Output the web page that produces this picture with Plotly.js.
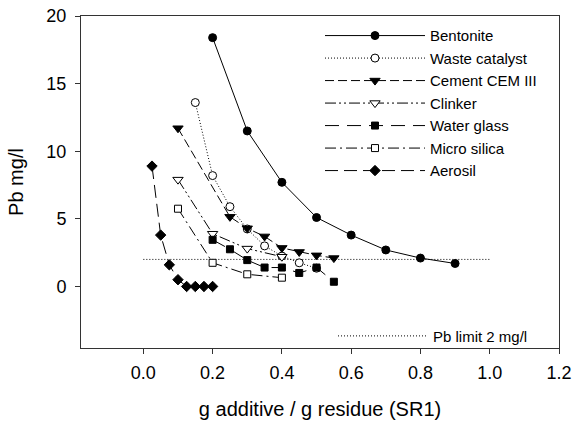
<!DOCTYPE html>
<html>
<head>
<meta charset="utf-8">
<script src="https://cdn.plot.ly/plotly-3.0.1.min.js"></script>
<style>html,body{margin:0;padding:0;background:#fff;}#chart{width:575px;height:424px;}</style>
</head>
<body>
<div id="chart"></div>
<script>
const seriesNames = ["Bentonite", "Waste catalyst", "Cement CEM III", "Clinker", "Water glass", "Micro silica", "Aerosil"];
const bentoniteX = [0.2, 0.3, 0.4, 0.5, 0.6, 0.7, 0.8, 0.9];
const bentoniteY = [18.4, 11.5, 7.7, 5.1, 3.8, 2.7, 2.1, 1.7];
const wasteX = [0.15, 0.2, 0.25, 0.3, 0.35, 0.4, 0.45, 0.5];
const wasteY = [13.6, 8.2, 5.9, 4.25, 3.0, 2.25, 1.75, 1.35];
const cementX = [0.1, 0.25, 0.3, 0.35, 0.4, 0.45, 0.5, 0.55];
const cementY = [11.7, 5.15, 4.3, 3.7, 2.85, 2.55, 2.3, 2.1];
const clinkerX = [0.1, 0.2, 0.3, 0.4];
const clinkerY = [7.9, 3.9, 2.8, 2.2];
const waterX = [0.2, 0.25, 0.3, 0.35, 0.4, 0.45, 0.5, 0.55];
const waterY = [3.45, 2.75, 1.95, 1.4, 1.4, 1.0, 1.4, 0.35];
const microX = [0.1, 0.2, 0.3, 0.4];
const microY = [5.75, 1.75, 0.9, 0.65];
const aerosilX = [0.025, 0.05, 0.075, 0.1, 0.125, 0.15, 0.175, 0.2];
const aerosilY = [8.9, 3.8, 1.6, 0.5, 0, 0, 0, 0];
const limitName = "Pb limit 2 mg/l";
const limitX = [0, 1];
const limitY = [2, 2];
const xTicks = [0, 0.2, 0.4, 0.6, 0.8, 1.0, 1.2];
const yTicks = [0, 5, 10, 15, 20];

const FONT = "Liberation Sans, Arial, sans-serif";
function series(name, x, y, dash, symbol, size, fill) {
  return {
    type: "scatter", mode: "lines+markers", name: name, x: x, y: y,
    line: {color: "#000", width: 1, dash: dash},
    marker: {symbol: symbol, size: size, color: fill, line: {color: "#000", width: 1}},
    legend: "legend"
  };
}
const data = [
  {type: "scatter", mode: "lines", name: limitName, x: limitX, y: limitY,
   line: {color: "#000", width: 1, dash: "1px,2px"}, legend: "legend2"},
  series(seriesNames[0], bentoniteX, bentoniteY, "solid", "circle", 8, "#000"),
  series(seriesNames[1], wasteX, wasteY, "1px,2px", "circle", 8, "#fff"),
  series(seriesNames[2], cementX, cementY, "9px,4px", "triangle-down", 9, "#000"),
  series(seriesNames[3], clinkerX, clinkerY, "11px,3px,2px,3px,2px,3px", "triangle-down", 9, "#fff"),
  series(seriesNames[4], waterX, waterY, "14px,8px", "square", 7, "#000"),
  series(seriesNames[5], microX, microY, "11px,4px,2px,4px", "square", 7, "#fff"),
  series(seriesNames[6], aerosilX, aerosilY, "13px,6px", "diamond", 8, "#000")
];
const axisCommon = {
  showline: true, linecolor: "#333", linewidth: 1, mirror: true,
  ticks: "outside", ticklen: 5, tickcolor: "#333", tickwidth: 1,
  showgrid: false, zeroline: false,
  tickfont: {family: FONT, size: 18, color: "#000"}
};
const layout = {
  width: 575, height: 424,
  margin: {l: 81, r: 16, t: 16, b: 76},
  paper_bgcolor: "#fff", plot_bgcolor: "#fff",
  font: {family: FONT, color: "#000"},
  xaxis: Object.assign({}, axisCommon, {
    range: [-0.18, 1.2], tickvals: xTicks, tickformat: ".1f", ticklabelstandoff: 3,
    title: {text: "g additive / g residue (SR1)", font: {family: FONT, size: 20}, standoff: 20}
  }),
  yaxis: Object.assign({}, axisCommon, {
    range: [-4.55, 20], tickvals: yTicks, ticklabelstandoff: 5,
    title: {text: "Pb mg/l", font: {family: FONT, size: 20}, standoff: 17}
  }),
  showlegend: true,
  legend: {x: (320 - 81) / 478, y: 0.99, xanchor: "left", yanchor: "top", bgcolor: "rgba(0,0,0,0)",
           itemwidth: 100, font: {family: FONT, size: 15}, tracegroupgap: 0},
  legend2: {x: (333 - 81) / 478, y: -0.014, xanchor: "left", yanchor: "bottom", bgcolor: "rgba(0,0,0,0)",
            itemwidth: 90, font: {family: FONT, size: 15}}
};
Plotly.newPlot("chart", data, layout, {displayModeBar: false, staticPlot: true});
</script>
</body>
</html>
